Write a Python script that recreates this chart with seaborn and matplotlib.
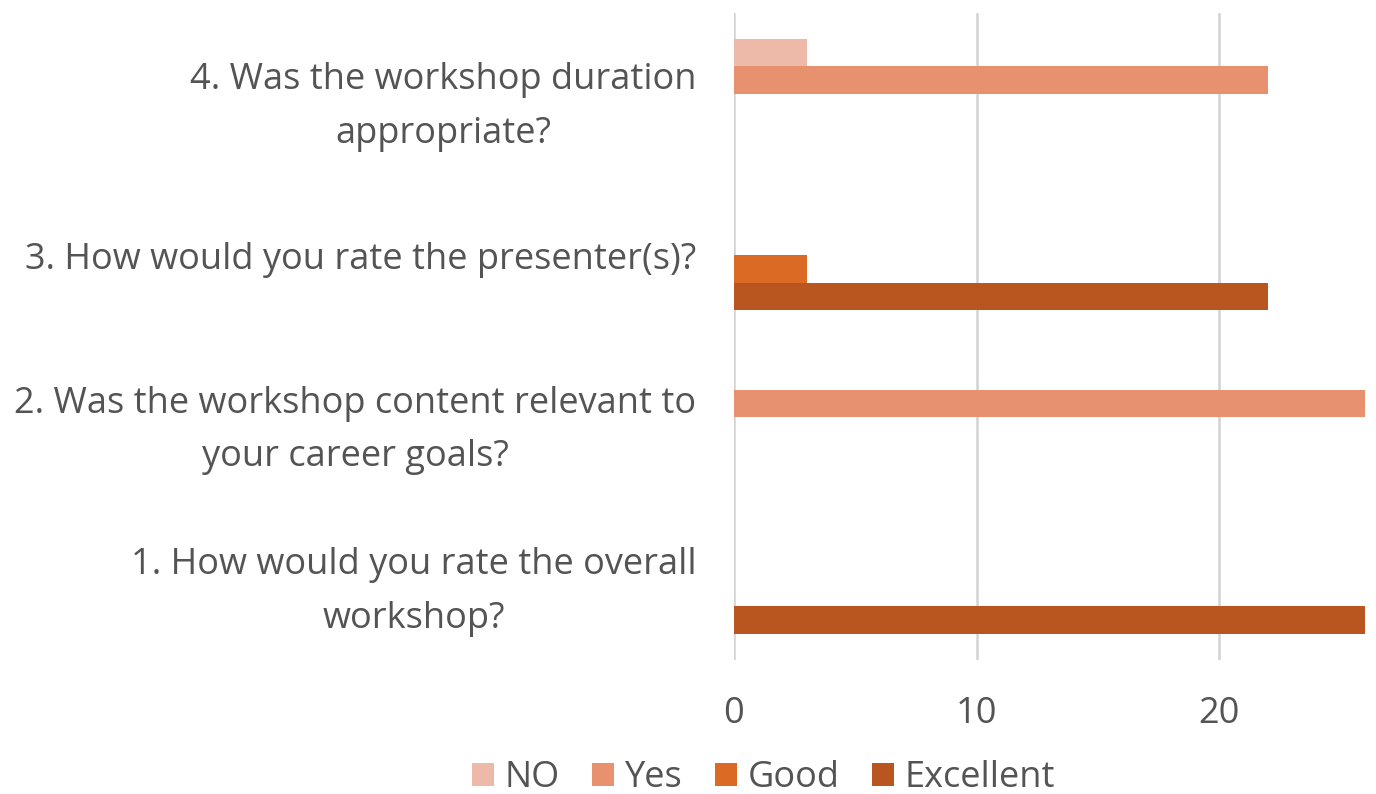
import matplotlib
matplotlib.use("Agg")
import matplotlib.pyplot as plt
import seaborn as sns
import pandas as pd

questions = [
    "4. Was the workshop duration\nappropriate?",
    "3. How would you rate the presenter(s)?",
    "2. Was the workshop content relevant to\nyour career goals?",
    "1. How would you rate the overall\nworkshop?",
]
series = ["NO", "Yes", "Good", "Excellent"]
colors = ["#EDB9A9", "#E8916F", "#DB6B24", "#B9561F"]

row_question = [questions[0], questions[0], questions[1], questions[1], questions[2], questions[3]]
row_series = ["NO", "Yes", "Good", "Excellent", "Yes", "Excellent"]
row_value = [3, 22, 3, 22, 26, 26]
xticks = [0, 10, 20]

df = pd.DataFrame({"question": row_question, "series": row_series, "value": row_value})

sns.set_theme(style="white")
plt.rcParams["font.family"] = ["Open Sans", "DejaVu Sans"]
text_color = "#545454"

fig = plt.figure(figsize=(13.76, 7.94), dpi=100)
ax = fig.add_axes([0.5334, 0.169, 0.4666, 0.815])

sns.barplot(data=df, x="value", y="question", hue="series", order=questions,
            hue_order=series, palette=colors, orient="h", width=0.68,
            saturation=1, ax=ax, legend=True)

for p in ax.patches:
    p.set_edgecolor("none")

ax.set_xlim(0, 26.45)
ax.set_xticks(xticks)
ax.set_xticklabels([str(t) for t in xticks])
ax.xaxis.grid(True, color="#D3D3D3", linewidth=1.8)
ax.set_axisbelow(True)
for s in ax.spines.values():
    s.set_visible(False)
ax.set_xlabel("")
ax.set_ylabel("")
ax.tick_params(axis="x", length=0, pad=26, labelsize=26, labelcolor=text_color)
ax.tick_params(axis="y", length=0, pad=27, labelsize=26, labelcolor=text_color)
for lab in ax.get_yticklabels():
    lab.set_multialignment("center")
    lab.set_linespacing(1.65)

handles, labels = ax.get_legend_handles_labels()
ax.get_legend().remove()
fig.legend(handles, labels, loc="center", bbox_to_anchor=(0.555, 0.02), ncol=4,
           frameon=False, fontsize=26, handlelength=0.6, handleheight=0.6,
           handletextpad=0.3, columnspacing=0.9, labelcolor=text_color)

fig.savefig("out.png", dpi=100, facecolor="white")
